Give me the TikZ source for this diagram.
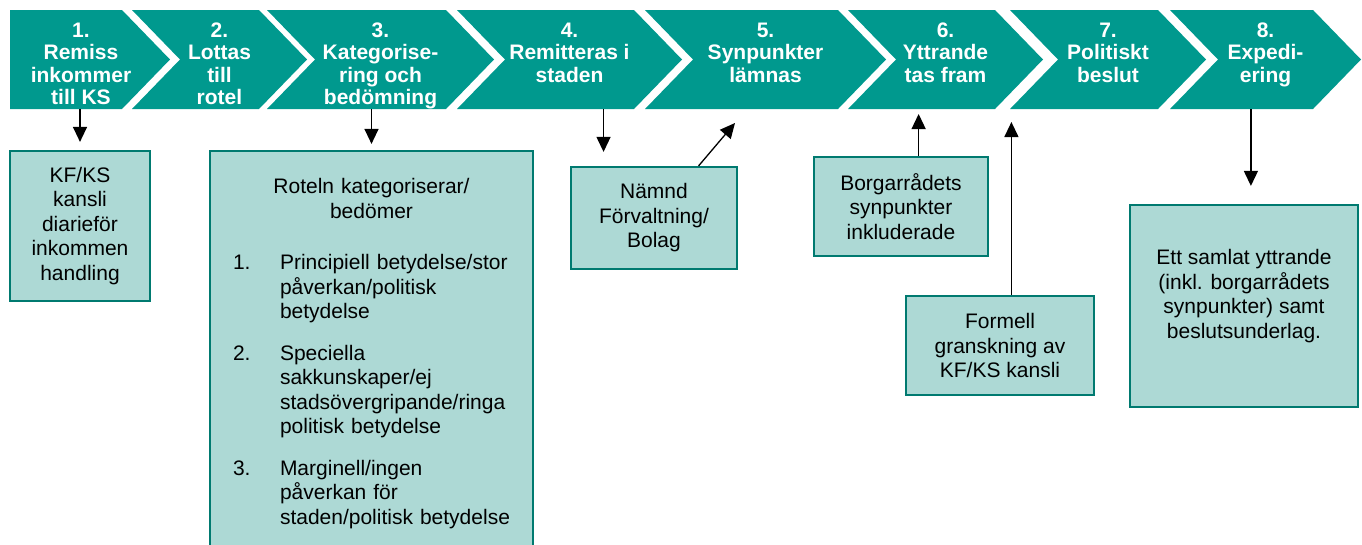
\documentclass[tikz,border=0pt]{standalone}
\usepackage{fontspec}
\setmainfont{Liberation Sans}
\usepackage{tikz}
\usetikzlibrary{arrows.meta}
\usetikzlibrary{calc}

\definecolor{stegfarg}{RGB}{0,153,142}
\definecolor{rutafarg}{RGB}{173,217,213}
\definecolor{kantfarg}{RGB}{0,122,112}

\tikzset{
  stegtext/.style={text=white, font=\fontsize{21}{22.5}\selectfont\bfseries,
                   align=center, anchor=north, inner sep=0pt},
  ruta/.style={draw=kantfarg, line width=2.2pt, fill=rutafarg,
               font=\fontsize{21}{24.5}\selectfont, align=center, inner sep=0pt},
  pil/.style={line width=1.3pt, -{Triangle[width=14pt,length=15pt]}},
}

% chevron: name, left x, right x, text
\newcommand{\stegpil}[4]{%
  \fill[stegfarg] (#2,10) -- (#3,10) -- (#3+48,59.5) -- (#3,109)
                  -- (#2,109) -- (#2+48,59.5) -- cycle;
  \node[stegtext] (#1) at ({(#2+#3+48)/2},22.5) {#4};
  \coordinate (#1-bas) at ({(#2+#3+48)/2},109);}

\newcommand{\punkt}[1]{\hangindent=47pt\hangafter=1\noindent\makebox[47pt][l]{#1}}

\begin{document}
\begin{tikzpicture}[x=1pt, y=-1pt]
\useasboundingbox (0,0) rectangle (1362,544);
\clip (0,0) rectangle (1362,544);

% the eight steps
\fill[stegfarg] (10,10) -- (122,10) -- (170,59.5) -- (122,109) -- (10,109) -- cycle;
\node[stegtext] (steg1) at (81,22.5) {1.\\Remiss\\inkommer\\till KS};
\coordinate (steg1-bas) at (81,109);
\stegpil{steg2}{132}{259}{2.\\Lottas\\till\\rotel}
\stegpil{steg3}{267}{446}{3.\\Kategorise-\\ring och\\bedömning}
\stegpil{steg4}{457}{634}{4.\\Remitteras i\\staden}
\stegpil{steg5}{645}{838}{5.\\Synpunkter\\lämnas}
\stegpil{steg6}{848}{995}{6.\\Yttrande\\tas fram}
\stegpil{steg7}{1010}{1158}{7.\\Politiskt\\beslut}
\stegpil{steg8}{1170}{1313}{8.\\Expedi-\\ering}

% boxes
\node[ruta, minimum width=140pt, minimum height=150pt] (diarie) at (80,226)
  {KF/KS\\kansli\\diarieför\\inkommen\\handling};
\node[ruta, minimum width=323pt, minimum height=405pt, text width=277pt, align=left]
  (rotel) at (371.5,353.5) {%
  {\centering Roteln kategoriserar/\\bedömer\par}\vspace{27pt}
  \punkt{1.}Principiell betydelse/stor\newline påverkan/politisk\newline betydelse\par
  \vspace{17pt}
  \punkt{2.}Speciella\newline sakkunskaper/ej\newline stadsövergripande/ringa\newline
    politisk betydelse\par
  \vspace{17pt}
  \punkt{3.}Marginell/ingen\newline påverkan för\newline staden/politisk betydelse\par};
\node[ruta, minimum width=166pt, minimum height=102pt] (namnd) at (654,218)
  {Nämnd\\Förvaltning/\\Bolag};
\node[ruta, minimum width=174pt, minimum height=99pt] (borgarrad) at (901,206.5)
  {Borgarrådets\\synpunkter\\inkluderade};
\node[ruta, minimum width=188pt, minimum height=99pt] (granskning) at (1000,345.5)
  {Formell\\granskning av\\KF/KS kansli};
\node[ruta, minimum width=228pt, minimum height=202pt, text depth=24pt] (yttrande) at (1244,306)
  {Ett samlat yttrande\\(inkl. borgarrådets\\synpunkter) samt\\beslutsunderlag.};

% arrows
\coordinate (namnd-in)   at ($(namnd.north west)!0.2!(namnd.north east)$);
\coordinate (namnd-ut)   at ($(namnd.north west)!0.765!(namnd.north east)$);
\coordinate (svar-mal)   at (735,123);
\coordinate (borg-ut)    at ($(borgarrad.north west)!0.6!(borgarrad.north east)$);
\coordinate (gransk-ut)  at ($(granskning.north west)!0.56!(granskning.north east)$);
\coordinate (gransk-mal) at (1011,122);
\coordinate (ytt-in)     at ($(yttrande.north west)!0.53!(yttrande.north east)$);

\draw[pil, shorten >=8pt]  (diarie.north |- steg1-bas) -- (diarie.north);
\draw[pil, shorten >=6pt]  (rotel.north |- steg3-bas) -- (rotel.north);
\draw[pil, shorten >=14pt] (namnd-in |- steg4-bas) -- (namnd-in);
\draw[pil]                 (namnd-ut) -- (svar-mal);
\draw[pil, shorten >=5pt]  (borg-ut) -- (borg-ut |- steg6-bas);
\draw[pil]                 (gransk-ut) -- (gransk-ut |- gransk-mal);
\draw[pil, shorten >=18pt] (ytt-in |- steg8-bas) -- (ytt-in);
\end{tikzpicture}
\end{document}
